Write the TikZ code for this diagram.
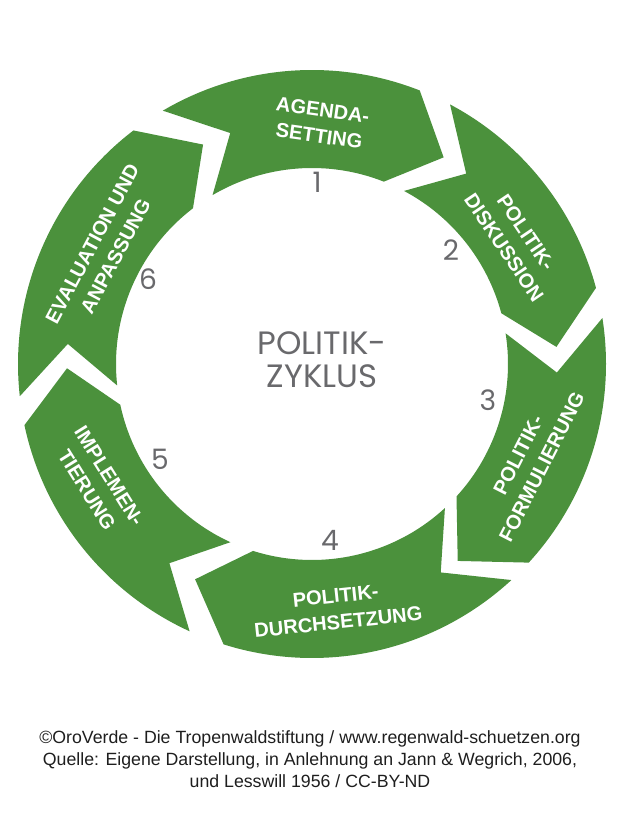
\documentclass[tikz,border=0pt]{standalone}
\usepackage{fontspec}
\setmainfont{Liberation Sans}
\newfontfamily\roundfont{Poppins}
\usepackage{tikz}
\definecolor{ringgreen}{RGB}{75,145,60}
\definecolor{numgray}{RGB}{105,105,108}
\definecolor{notegray}{RGB}{30,30,30}

\begin{document}
\begin{tikzpicture}[x=0.025cm,y=0.025cm,
	phase/.style={fill=ringgreen},
	phasetext/.style={text=white,font=\fontsize{14.3}{18.8}\selectfont\bfseries,align=center},
	stepnum/.style={text=numgray,font=\roundfont\fontsize{20}{20}\selectfont}]
	\useasboundingbox (0,0) rectangle (620,828);

	\begin{scope}[shift={(312,464)}]
	\foreach \a/\b in {120.5/68.5,62/15,9/-42.5,-47.3/-107.5,-114.6/-168,-173.7/-232.6}
		\fill[phase] (\a:294) arc[start angle=\a,end angle=\b,radius=294] -- ({\b-11}:245)
			-- (\b:196) arc[start angle=\b,end angle=\a,radius=196] -- ({\a-11}:245) -- cycle;
	\end{scope}

	\node[phasetext,rotate=-8] (agenda) at (321,705) {AGENDA-\\SETTING};
	\node[phasetext,rotate=-56] (diskussion) at (515,588) {POLITIK-\\DISKUSSION};
	\node[phasetext,rotate=63] (formulierung) at (530,367) {POLITIK-\\FORMULIERUNG};
	\node[phasetext,rotate=6] (durchsetzung) at (337,219) {POLITIK-\\DURCHSETZUNG};
	\node[phasetext,rotate=-58] (implementierung) at (98,345) {IMPLEMEN-\\TIERUNG};
	\node[phasetext,rotate=62] (evaluation) at (104,578) {EVALUATION UND\\ANPASSUNG};

	\node[stepnum] (n1) at (317,646) {1};
	\node[stepnum] (n2) at (451,578) {2};
	\node[stepnum] (n3) at (488,428) {3};
	\node[stepnum] (n4) at (330,288) {4};
	\node[stepnum] (n5) at (160,369) {5};
	\node[stepnum] (n6) at (148,549) {6};

	\node[text=numgray,font=\roundfont\fontsize{23}{23.5}\selectfont,align=center] (zyklus) at (322,468) {POLITIK-\\ZYKLUS};

	\node[text=notegray,font=\fontsize{12.6}{15.6}\selectfont,align=center] (quelle) at (310,69)
		{©OroVerde - Die Tropenwaldstiftung / www.regenwald-schuetzen.org\\
		Quelle: Eigene Darstellung, in Anlehnung an Jann \& Wegrich, 2006,\\
		und Lesswill 1956 / CC-BY-ND};
\end{tikzpicture}
\end{document}
